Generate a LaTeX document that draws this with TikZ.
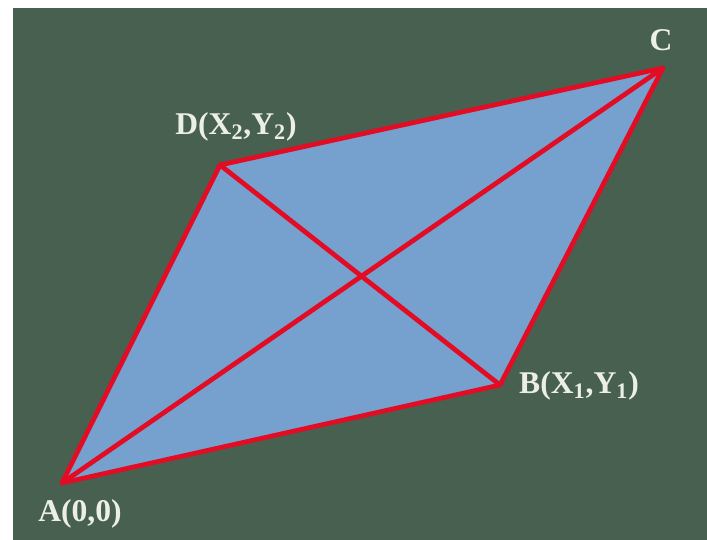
\documentclass[tikz,border=0pt]{standalone}
\usepackage{fontspec}
\setmainfont{Liberation Serif}
\usepackage{xcolor}
\usepackage{tikz}
\usetikzlibrary{positioning, calc}
\definecolor{board}{RGB}{72, 96, 80}
\definecolor{panel}{RGB}{118, 160, 205}
\definecolor{edge}{RGB}{226, 12, 36}
\definecolor{chalk}{RGB}{236, 240, 228}

\begin{document}
\begin{tikzpicture}[x=0.02cm, y=-0.02cm,
  lbl/.style={text=chalk, font=\fontsize{18}{21}\selectfont\bfseries, inner sep=0pt}]
  % background
  \useasboundingbox (0,0) rectangle (707,540);
  \fill[white] (0,0) rectangle (707,540);
  \fill[board] (13,8) rectangle (707,540);

  % corners
  \coordinate (A) at (62,483);
  \coordinate (B) at (500,385);
  \coordinate (C) at (663,68);
  \coordinate (D) at (220,165);

  % parallelogram and diagonals
  \fill[panel] (A) -- (B) -- (C) -- (D) -- cycle;
  \draw[edge, line width=2.7pt, line join=round] (A) -- (B) -- (C) -- (D) -- cycle;
  \draw[edge, line width=2.7pt] (A) -- (C);
  \draw[edge, line width=2.7pt] (D) -- (B);

  % labels
  \node[lbl] (la) at (80,514) {A(0,0)};
  \node[lbl] (lb) at (579,386) {B(X\textsubscript{1},Y\textsubscript{1})};
  \node[lbl] (lc) at (661,40) {C};
  \node[lbl] (ld) at (236,127) {D(X\textsubscript{2},Y\textsubscript{2})};
\end{tikzpicture}
\end{document}
